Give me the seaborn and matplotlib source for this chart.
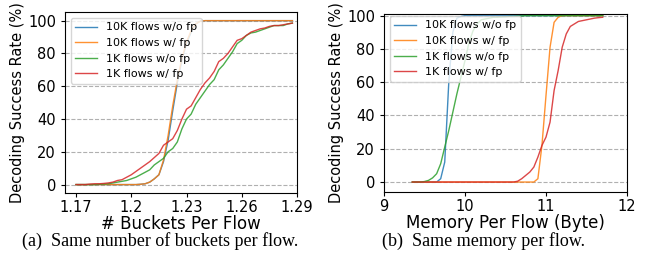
import matplotlib
matplotlib.use("Agg")
import matplotlib.pyplot as plt
import pandas as pd
import seaborn as sns

labels = ["10K flows w/o fp", "10K flows w/ fp", "1K flows w/o fp", "1K flows w/ fp"]
colors = ["#1f77b4", "#ff7f0e", "#2ca02c", "#d62728"]

# (a) buckets per flow
x_a = [1.17, 1.1725, 1.175, 1.1775, 1.18, 1.1825, 1.185, 1.1875, 1.19, 1.1925,
       1.195, 1.1975, 1.2, 1.2025, 1.205, 1.2075, 1.21, 1.2125, 1.215, 1.2175,
       1.22, 1.2225, 1.225, 1.2275, 1.23, 1.2325, 1.235, 1.2375, 1.24, 1.2425,
       1.245, 1.2475, 1.25, 1.2525, 1.255, 1.2575, 1.26, 1.2625, 1.265, 1.2675,
       1.27, 1.2725, 1.275, 1.2775, 1.28, 1.2825, 1.285, 1.2875]
a_10k_wo = [0, 0, 0, 0, 0, 0, 0, 0, 0, 0, 0, 0, 0, 0, 0.2, 0.5, 1.5, 3.5, 6, 14,
            27, 45, 62, 76, 86, 93, 98, 99.7] + [100] * 20
a_10k_w = [0, 0, 0, 0, 0, 0, 0, 0, 0, 0, 0, 0, 0, 0, 0.2, 0.5, 1.5, 3.5, 6, 15,
           30, 48, 64, 77, 87, 94, 98, 99.7] + [100] * 20
a_1k_wo = [0, 0, 0, 0, 0, 0.2, 0.3, 0.5, 1, 1.5, 2, 2.5, 3.5, 4.5, 6, 7.5, 9, 12,
           14, 16, 20, 22, 26, 34, 40, 43, 49, 53, 57, 61, 64, 70, 73, 77, 81, 86,
           88, 91, 92.5, 93, 94, 95, 96, 97, 97, 97, 98, 98.5]
a_1k_w = [0, 0, 0, 0.3, 0.5, 0.5, 0.7, 1, 1.5, 2.5, 3, 4.5, 6, 8, 10, 12, 14, 16.5,
          19, 24, 26, 28, 33, 40, 46, 48, 53, 58, 62, 65, 69, 75, 77, 80, 84, 88,
          89, 91, 93, 94, 95, 95.5, 96.5, 97, 97, 97.5, 98, 98.5]

# (b) memory per flow
x_b = [9.35, 9.40, 9.45, 9.50, 9.55, 9.60, 9.65, 9.70, 9.75, 9.80, 9.85, 9.90,
       9.95, 10.00, 10.05, 10.10, 10.15, 10.20, 10.25, 10.30, 10.35, 10.40, 10.45,
       10.50, 10.55, 10.60, 10.65, 10.70, 10.75, 10.80, 10.85, 10.90, 10.95, 11.00,
       11.05, 11.10, 11.15, 11.20, 11.25, 11.30, 11.35, 11.40, 11.45, 11.50, 11.55,
       11.60, 11.65, 11.70]
b_10k_wo = [0, 0, 0, 0, 0, 0, 0, 2, 12, 60, 90, 98.5, 99.5] + [100] * 35
b_10k_w = [0] * 31 + [2, 22, 52, 81, 96, 99] + [100] * 11
b_1k_wo = [0, 0, 0, 0.3, 1, 2.5, 5, 11, 21, 31, 42, 53, 63, 73, 84, 91, 95, 97.5,
           98, 98.5, 99, 99, 99.2, 99.3, 99.5, 99.5, 99.7, 99.8] + [100] * 20
b_1k_w = [0] * 26 + [0.5, 2, 4, 6, 9, 15, 22, 27, 36, 55, 67, 81, 89, 93.5, 95,
                     96.5, 97, 97.5, 98, 98.5, 98.8, 99]


def long_df(x, series):
    rows = []
    for lab, ys in zip(labels, series):
        for xv, yv in zip(x, ys):
            rows.append((xv, yv, lab))
    return pd.DataFrame(rows, columns=["x", "y", "series"])


df_a = long_df(x_a, [a_10k_wo, a_10k_w, a_1k_wo, a_1k_w])
df_b = long_df(x_b, [b_10k_wo, b_10k_w, b_1k_wo, b_1k_w])

fig = plt.figure(figsize=(6.6, 2.54), dpi=100)
ax1 = fig.add_axes([0.0985, 0.241, 0.3515, 0.710])
ax2 = fig.add_axes([0.5818, 0.244, 0.3682, 0.701])

for ax, df in [(ax1, df_a), (ax2, df_b)]:
    sns.lineplot(data=df, x="x", y="y", hue="series", hue_order=labels,
                 palette=colors, linewidth=1, alpha=0.85, ax=ax)
    ax.grid(axis="y", linestyle="--", color="#b0b0b0", linewidth=0.8)
    ax.set_axisbelow(True)
    ax.set_ylabel("Decoding Success Rate (%)", fontsize=10.5, labelpad=2)
    ax.set_yticks([0, 20, 40, 60, 80, 100])
    ax.tick_params(labelsize=10.5, length=3)
    ax.tick_params(axis="x", pad=2)

ax1.set_xlim(1.164, 1.29)
ax1.set_ylim(-5, 105)
ax1.set_xticks([1.17, 1.2, 1.23, 1.26, 1.29])
ax1.set_xticklabels(["1.17", "1.2", "1.23", "1.26", "1.29"])
ax1.set_xlabel("# Buckets Per Flow", fontsize=12, labelpad=0)
ax1.legend(loc="upper left", fontsize=8, framealpha=0.8)

ax2.set_xlim(9, 12)
ax2.set_ylim(-6, 101)
ax2.set_xticks([9, 10, 11, 12])
ax2.set_xlabel("Memory Per Flow (Byte)", fontsize=12, labelpad=0)
ax2.legend(loc="upper left", fontsize=8, framealpha=0.8,
           bbox_to_anchor=(0.0, 1.02))

fig.text(0.243, 0.052, "(a)  Same number of buckets per flow.",
         family="Liberation Serif", fontsize=13, ha="center", va="center")
fig.text(0.732, 0.052, "(b)  Same memory per flow.",
         family="Liberation Serif", fontsize=13, ha="center", va="center")

fig.savefig("out.png", dpi=100)
